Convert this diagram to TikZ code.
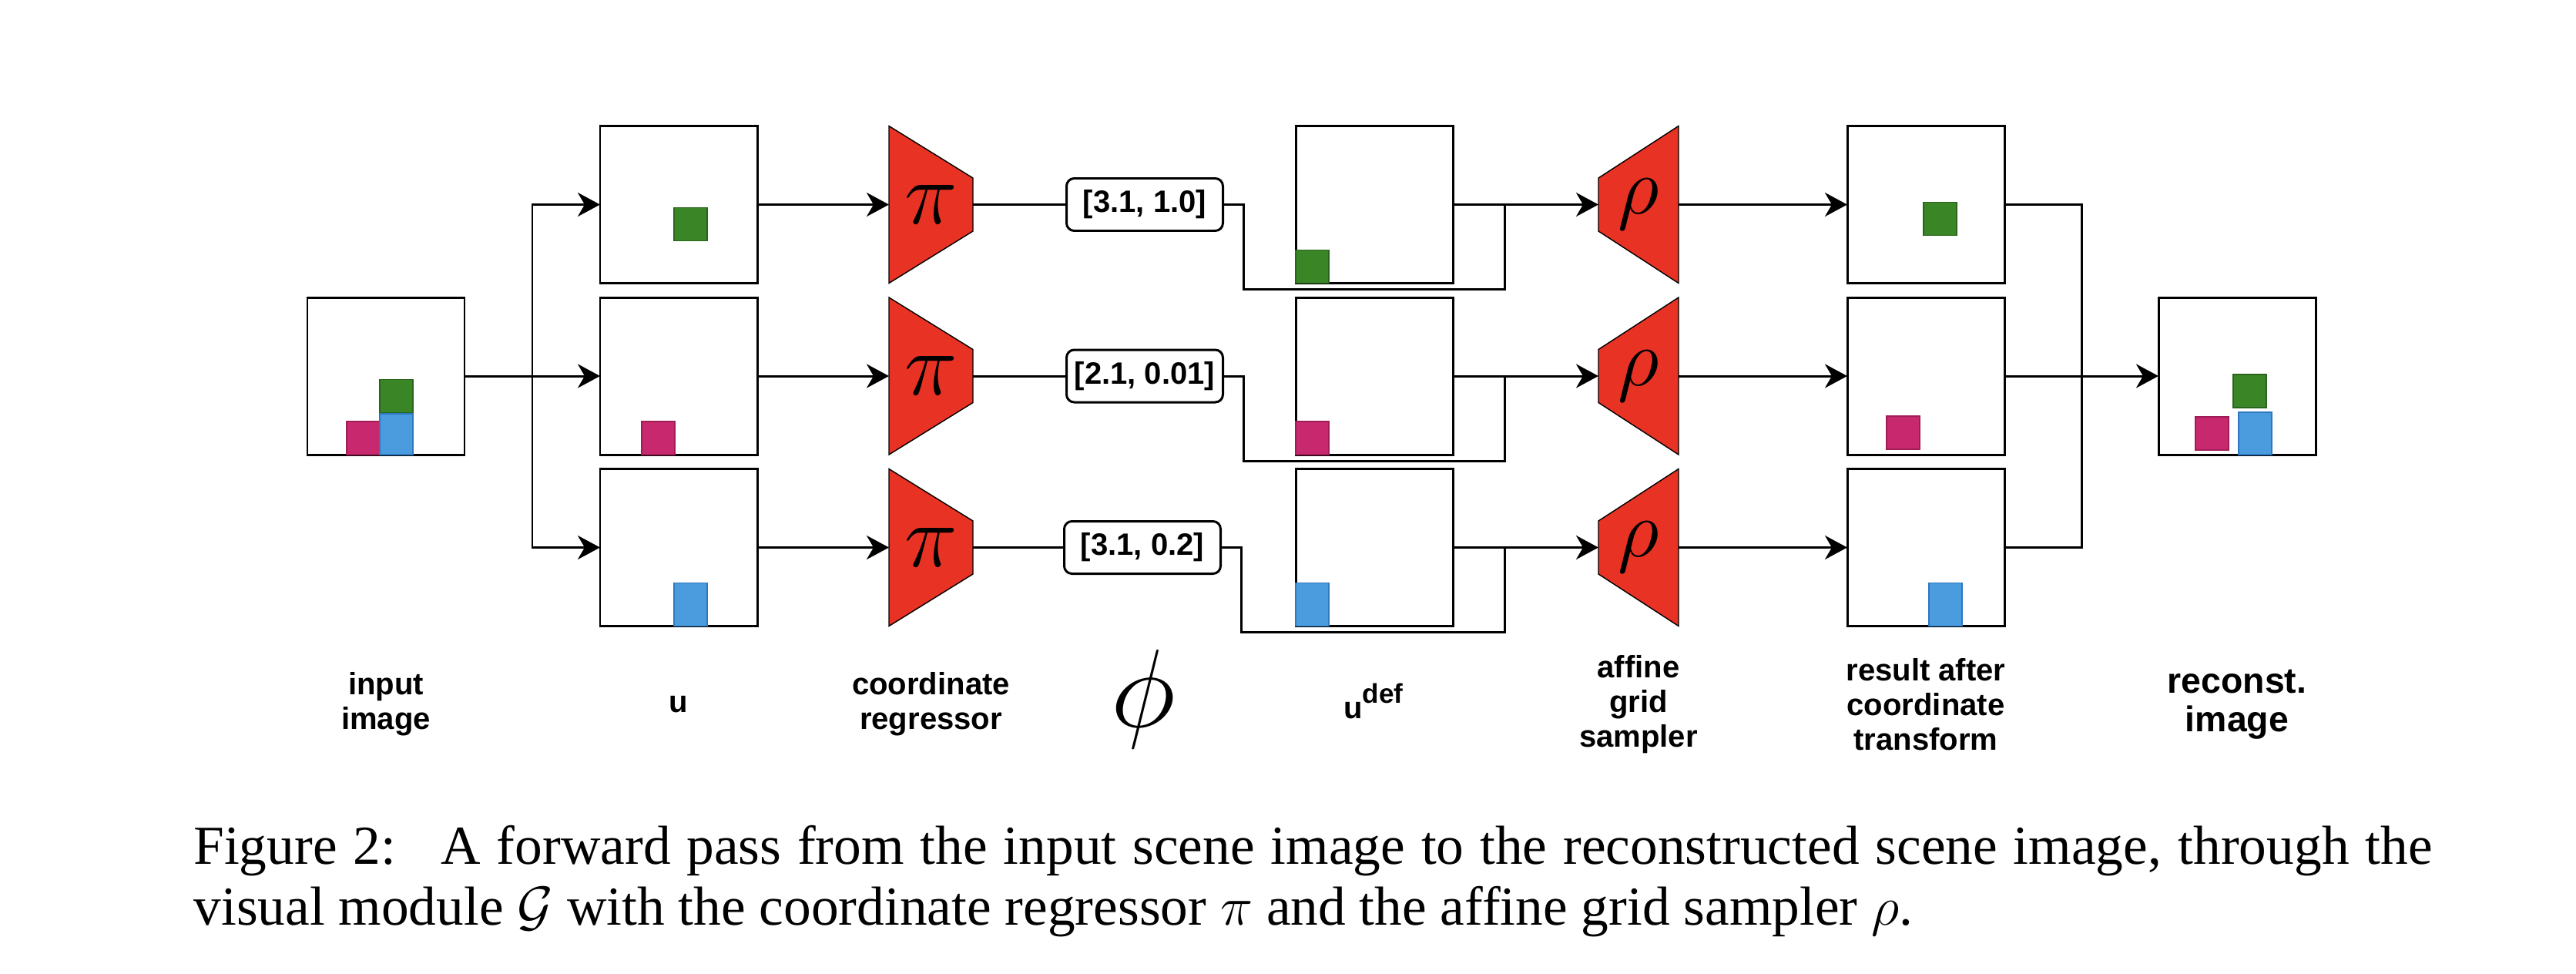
\documentclass[tikz,border=0pt]{standalone}
\usepackage{fix-cm}
\usepackage{fontspec}
\setmainfont{Liberation Serif}
\newfontfamily\helv{Liberation Sans}
\usetikzlibrary{positioning,calc,arrows.meta,backgrounds}

\definecolor{encred}{RGB}{232,50,36}
\definecolor{objgreen}{RGB}{58,133,38}
\definecolor{objgreenline}{RGB}{42,100,28}
\definecolor{objpink}{RGB}{200,40,110}
\definecolor{objpinkline}{RGB}{160,28,85}
\definecolor{objblue}{RGB}{74,156,222}
\definecolor{objblueline}{RGB}{45,120,190}

\begin{document}
\begin{tikzpicture}[
    line width=0.85pt,
    img/.style={draw, minimum width=2.04cm, minimum height=2.04cm, inner sep=0pt, outer sep=0pt},
    enc/.style={minimum height=2.04cm, inner sep=0pt, outer sep=0pt},
    vec/.style={draw, rounded corners=0.1cm, minimum width=2.03cm, minimum height=0.68cm, inner sep=0pt, outer sep=0pt, font=\helv\bfseries\fontsize{11.4}{13}\selectfont},
    lbl/.style={align=center, inner sep=0pt, font=\helv\bfseries\fontsize{11.4}{12.8}\selectfont},
    arr/.style={-{Stealth[length=2.9mm,width=3.1mm,inset=0.9mm]}},
    gsq/.style={fill=objgreen, draw=objgreenline, line width=0.5pt, minimum width=0.43cm, minimum height=0.43cm, inner sep=0pt, outer sep=0pt, anchor=south west},
    psq/.style={gsq, fill=objpink, draw=objpinkline},
    bsq/.style={gsq, fill=objblue, draw=objblueline, minimum height=0.55cm},
]
    \useasboundingbox (0,0) rectangle (33.44,-12.64);

    % Input image
    \node[img] (in) at (5.01,-4.88) {};
    \node[psq] (in-p) at ([xshift=0.51cm]in.south west) {};
    \node[bsq, minimum height=0.53cm] (in-b) at ([xshift=0.94cm]in.south west) {};
    \node[gsq] (in-g) at ([shift={(0.94,0.545)}]in.south west) {};

    % Slots u
    \node[img] (u1) at (8.81,-2.655) {};
    \node[img] (u2) at (8.81,-4.88) {};
    \node[img] (u3) at (8.81,-7.105) {};
    \node[gsq] (u1-g) at ([shift={(0.96,0.55)}]u1.south west) {};
    \node[psq] (u2-p) at ([xshift=0.54cm]u2.south west) {};
    \node[bsq, minimum height=0.56cm] (u3-b) at ([xshift=0.96cm]u3.south west) {};

    % Coordinate regressor
    \node[enc, minimum width=1.09cm, font=\fontsize{33}{33}\selectfont] (pi1) at (12.085,-2.655) {$\pi$};
    \node[enc, minimum width=1.09cm, font=\fontsize{33}{33}\selectfont] (pi2) at (12.085,-4.88) {$\pi$};
    \node[enc, minimum width=1.09cm, font=\fontsize{33}{33}\selectfont] (pi3) at (12.085,-7.105) {$\pi$};

    % Parameters phi
    \node[vec] (v1) at (14.86,-2.655) {[3.1, 1.0]};
    \node[vec] (v2) at (14.86,-4.88) {[2.1, 0.01]};
    \node[vec] (v3) at (14.83,-7.105) {[3.1, 0.2]};

    % Slots u^def
    \node[img] (ud1) at (17.84,-2.655) {};
    \node[img] (ud2) at (17.84,-4.88) {};
    \node[img] (ud3) at (17.84,-7.105) {};
    \node[gsq] (ud1-g) at (ud1.south west) {};
    \node[psq] (ud2-p) at (ud2.south west) {};
    \node[bsq, minimum height=0.56cm] (ud3-b) at (ud3.south west) {};

    % Affine grid sampler
    \node[enc, minimum width=1.04cm, font=\fontsize{30}{30}\selectfont] (rho1) at (21.27,-2.655) {$\rho$};
    \node[enc, minimum width=1.04cm, font=\fontsize{30}{30}\selectfont] (rho2) at (21.27,-4.88) {$\rho$};
    \node[enc, minimum width=1.04cm, font=\fontsize{30}{30}\selectfont] (rho3) at (21.27,-7.105) {$\rho$};

    % Results after transform
    \node[img] (res1) at (25.00,-2.655) {};
    \node[img] (res2) at (25.00,-4.88) {};
    \node[img] (res3) at (25.00,-7.105) {};
    \node[gsq] (res1-g) at ([shift={(0.99,0.62)}]res1.south west) {};
    \node[psq] (res2-p) at ([shift={(0.51,0.07)}]res2.south west) {};
    \node[bsq, minimum height=0.56cm] (res3-b) at ([xshift=1.06cm]res3.south west) {};

    % Reconstructed image
    \node[img] (rec) at (29.04,-4.88) {};
    \node[psq] (rec-p) at ([shift={(0.48,0.06)}]rec.south west) {};
    \node[gsq] (rec-g) at ([shift={(0.97,0.61)}]rec.south west) {};
    \node[bsq] (rec-b) at ([xshift=1.04cm]rec.south west) {};

    % Trapezoids behind pi and rho
    \begin{scope}[on background layer]
        \foreach \n in {pi1,pi2,pi3}
            \draw[fill=encred] (\n.north west) -- ([yshift=-0.675cm]\n.north east) -- ([yshift=0.675cm]\n.south east) -- (\n.south west) -- cycle;
        \foreach \n in {rho1,rho2,rho3}
            \draw[fill=encred] ([yshift=-0.675cm]\n.north west) -- (\n.north east) -- (\n.south east) -- ([yshift=0.675cm]\n.south west) -- cycle;
    \end{scope}

    % Split
    \coordinate (split) at (6.91,-4.88);
    \draw (in.east) -- (split);
    \draw[arr] (split) |- (u1.west);
    \draw[arr] (split) -- (u2.west);
    \draw[arr] (split) |- (u3.west);

    % Rows
    \foreach \r in {1,2,3} {
        \draw[arr] (u\r.east) -- (pi\r.west);
        \draw (pi\r.east) -- (v\r.west);
        \coordinate (j\r) at ([xshift=0.67cm]ud\r.east);
        \draw (v\r.east) -- ++(0.27,0) |- ([yshift=-0.08cm]ud\r.south) -| (j\r);
        \draw[arr] (ud\r.east) -- (rho\r.west);
        \draw[arr] (rho\r.east) -- (res\r.west);
    }

    % Merge
    \coordinate (merge) at (27.02,-4.88);
    \draw (res1.east) -| (merge);
    \draw (res3.east) -| (merge);
    \draw[arr] (res2.east) -- (rec.west);

    % Labels
    \coordinate (lblrow) at (0,-9.14);
    \node[lbl] (t-in) at (in |- lblrow) {input\\image};
    \node[lbl] (t-u) at (u3 |- lblrow) {u};
    \node[lbl] (t-pi) at (pi3 |- lblrow) {coordinate\\regressor};
    \node[inner sep=0pt, font=\fontsize{41}{41}\selectfont] (t-phi) at (14.84,-9.07) {$\phi$};
    \node[lbl] (t-ud) at (17.83,-9.10) {u\raisebox{5.7pt}{\fontsize{10}{10}\selectfont def}};
    \node[lbl] (t-rho) at (rho3 |- lblrow) {affine\\grid\\sampler};
    \node[lbl] (t-res) at (res3 |- lblrow) {result after\\coordinate\\transform};
    \node[lbl, font=\helv\bfseries\fontsize{13.2}{14.3}\selectfont] (t-rec) at (rec |- lblrow) {reconst.\\image};

    % Caption
    \node[anchor=north west, inner sep=0pt, text width=29.06cm, align=justify, font=\fontsize{20.3}{22.5}\selectfont] (cap) at (2.50,-10.70)
        {Figure 2:\hspace{0.4em} A forward pass from the input scene image to the reconstructed scene image, through the\linebreak visual module $\mathcal{G}$ with the coordinate regressor $\pi$ and the affine grid sampler $\rho$.};
\end{tikzpicture}
\end{document}
